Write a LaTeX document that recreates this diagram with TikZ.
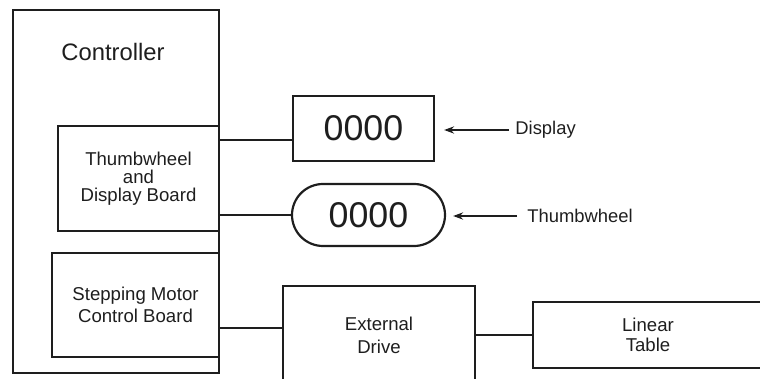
\documentclass[tikz,border=0pt]{standalone}
\usepackage{fontspec}
\setsansfont{Liberation Sans}
\usetikzlibrary{arrows.meta}
\definecolor{ink}{HTML}{1E1E1E}

\begin{document}
\begin{tikzpicture}[>={Stealth[length=5pt,width=3.6pt]},font=\sffamily,x=0.5pt,y=-0.5pt,
    blk/.style={draw=ink,line width=1.1pt,rectangle,inner sep=0pt,align=center,
      text=ink,font=\sffamily\fontsize{9.3}{11}\selectfont},
    digits/.style={blk,font=\sffamily\fontsize{17.9}{20}\selectfont},
    tag/.style={inner sep=0pt,text=ink,font=\sffamily\fontsize{9.2}{11}\selectfont},
    wire/.style={draw=ink,line width=1.1pt},
    pointer/.style={draw=ink,line width=1pt,->}]

  \useasboundingbox (0,0) rectangle (760,379);
  \clip (0,0) rectangle (760,379);

  % --- controller housing ---
  \node[blk,minimum width=103pt,minimum height=181.5pt] (ctrl) at (116,191.5) {};
  \node[tag,font=\sffamily\fontsize{11.9}{14}\selectfont] (ctrltxt) at (113,52) {Controller};

  % --- boards inside the controller ---
  \node[blk,minimum width=80.5pt,minimum height=52.5pt,
        font=\sffamily\fontsize{9.3}{9}\selectfont] (tdb) at (138.5,178.5)
        {Thumbwheel\\and\\Display Board};
  \node[blk,minimum width=83.5pt,minimum height=52pt] (smb) at (135.5,305)
        {Stepping Motor\\Control Board};

  % --- display and thumbwheel ---
  \node[digits,minimum width=70.5pt,minimum height=32.5pt] (disp) at (363.5,128.5) {0000};
  \node[digits,minimum width=76.5pt,minimum height=31pt,rounded corners=15.5pt]
        (thw) at (368.5,215) {0000};

  \node[tag,anchor=west] (dlab) at (515,130) {Display};
  \node[tag,anchor=west] (tlab) at (527,216) {Thumbwheel};
  \draw[pointer,shorten <=3pt,shorten >=4.5pt] (dlab.west) -- (disp.east |- dlab.west);
  \draw[pointer,shorten <=5pt,shorten >=3.5pt] (tlab.west) -- (thw.east |- tlab.west);

  % --- drive and table ---
  \node[blk,minimum width=96pt,minimum height=49pt,
        font=\sffamily\fontsize{9.3}{11.5}\selectfont] (drv) at (379,335) {External\\Drive};
  \node[blk,minimum width=115pt,minimum height=33pt,
        font=\sffamily\fontsize{9.3}{10}\selectfont] (tbl) at (648,335) {Linear\\Table};

  % --- connections ---
  \draw[wire] (tdb.east |- disp.189) -- (disp.189);
  \draw[wire] (tdb.east |- thw.west) -- (thw.west);
  \draw[wire] (smb.east |- drv.176) -- (drv.176);
  \draw[wire] (drv.east) -- (tbl.west);

\end{tikzpicture}
\end{document}
